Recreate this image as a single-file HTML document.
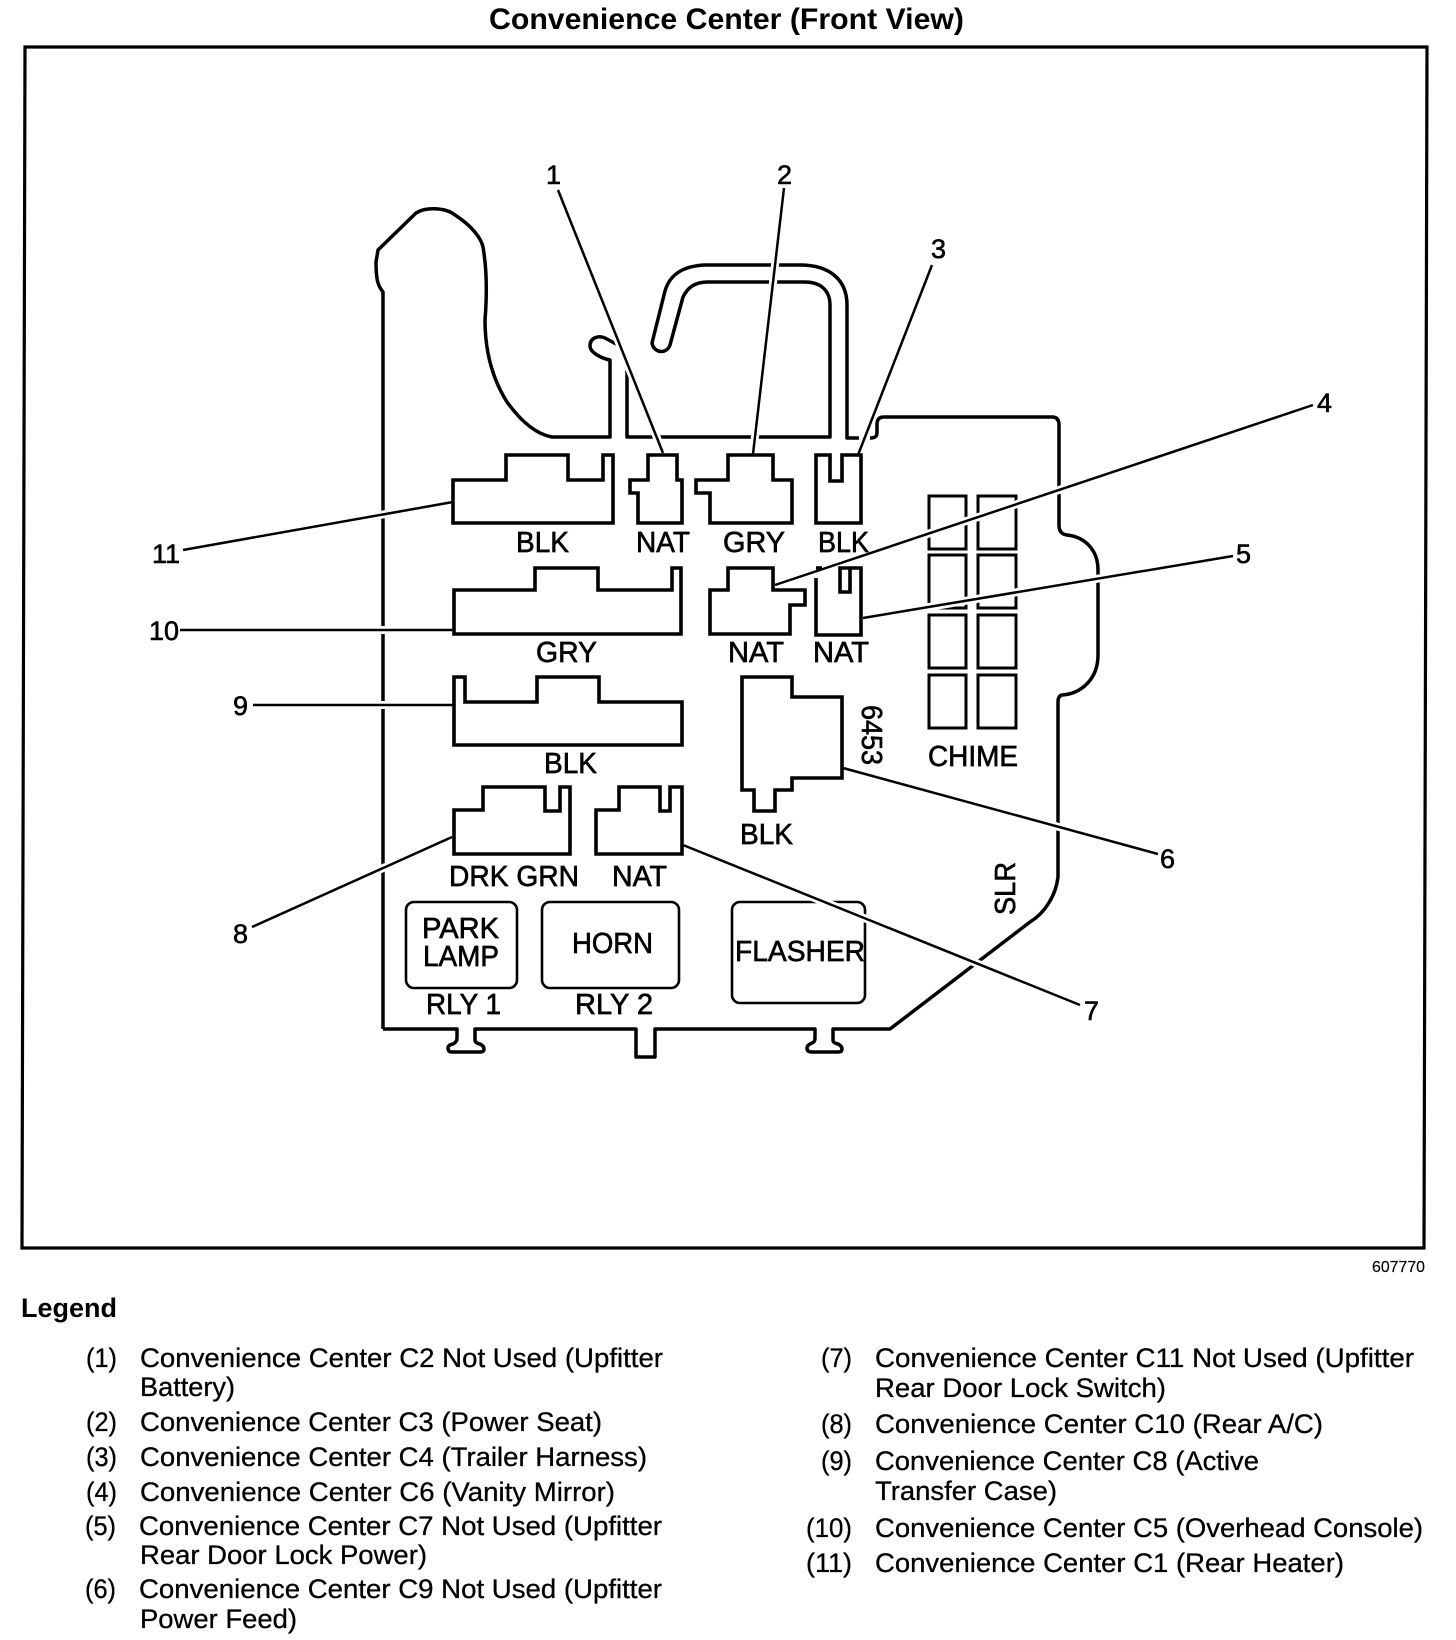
<!DOCTYPE html>
<html>
<head>
<meta charset="utf-8">
<style>
html,body{margin:0;padding:0;background:#fff;}
svg{display:block;}
text{font-family:"Liberation Sans",Arial,sans-serif;fill:#000;}
.d{font-size:29px;stroke:#000;stroke-width:.65px;}
.n{font-size:27px;stroke:#000;stroke-width:.6px;}
.l{font-size:26.5px;stroke:#000;stroke-width:.3px;}
.b{font-size:29.5px;font-weight:bold;}
.o{fill:none;stroke:#000;stroke-width:3.5;stroke-linejoin:round;}
.c{fill:none;stroke:#000;stroke-width:3.6;stroke-linejoin:miter;}
.r{fill:none;stroke:#000;stroke-width:2.6;}
.h{stroke:#fff;stroke-width:8;fill:none;}
.k{stroke:#000;stroke-width:2.5;fill:none;}
</style>
</head>
<body>
<svg xmlns="http://www.w3.org/2000/svg" width="1456" height="1640" viewBox="0 0 1456 1640">
<rect width="1456" height="1640" fill="#fff"/>

<text class="b" x="489" y="29" textLength="475" lengthAdjust="spacingAndGlyphs">Convenience Center (Front View)</text>
<polygon points="25,47 1427,47 1424,1248 22,1248" fill="none" stroke="#000" stroke-width="3.2"/>

<!-- body -->
<path class="o" d="M383 1029 L383 292 C378 286 376 280 376 262 L378 250 L416 213 C425 207 445 207 455 215 C472 226 481 238 483 247 C487 270 487 295 485 320 C485 345 490 375 507 402 C520 420 535 434 552 437 L610 437 L610 360 C600 358 590 352 590 346 C590 338 598 335 605 338 L618 345"/>
<path class="o" d="M627 370 V437 H830 V305 C830 290 820 282 805 282 H708 C695 282 688 287 683 297 L670 345 C667 354 654 354 652 343 L664 295 C668 275 682 266 705 265 H800 C830 265 847 280 847 305 V438 H859"/>
<path class="o" d="M870 438 C876 438 877 436 877 432 V424 Q877 417 884 417 H1052 Q1059 417 1059 425 V525 Q1059 534 1067 535 C1085 537 1098 550 1098 570 V655 C1098 680 1080 694 1062 695 Q1058 696 1058 702 V877 C1056 895 1045 913 1030 922 L890 1029 H833 V1040 Q833 1043 838 1044 Q842 1046 842 1049 Q842 1052 838 1052 H812 Q807 1052 807 1048 Q807 1045 812 1043 Q815 1042 815 1038 V1029 H655 V1057 H636 V1029 H475 V1040 Q475 1043 480 1044 Q484 1046 484 1049 Q484 1052 480 1052 H452 Q448 1052 448 1048 Q448 1045 453 1044 Q457 1042 457 1038 V1029 H383"/>

<!-- chime -->
<g class="c" style="stroke-width:3">
<rect x="929" y="496" width="37" height="53"/><rect x="978" y="496" width="38" height="53"/>
<rect x="929" y="555" width="37" height="53"/><rect x="978" y="555" width="38" height="53"/>
<rect x="929" y="615" width="37" height="53"/><rect x="978" y="615" width="38" height="53"/>
<rect x="929" y="675" width="37" height="53"/><rect x="978" y="675" width="38" height="53"/>
</g>

<!-- relays -->
<rect class="r" x="406" y="902" width="111" height="86" rx="8"/>
<rect class="r" x="542" y="902" width="137" height="86" rx="8"/>
<rect class="r" x="732" y="902" width="133" height="101" rx="8"/>

<!-- leader halos -->
<g class="h">
<line x1="558" y1="190" x2="663" y2="453"/>
<line x1="784" y1="188" x2="753" y2="454"/>
<line x1="932" y1="265" x2="858" y2="455"/>
<line x1="1313" y1="405" x2="775" y2="585"/>
<line x1="1233" y1="556" x2="863" y2="618"/>
<line x1="843" y1="768" x2="1158" y2="854"/>
<line x1="683" y1="845" x2="1080" y2="1005"/>
<line x1="252" y1="927" x2="452" y2="837"/>
<line x1="253" y1="705" x2="453" y2="705"/>
<line x1="180" y1="630" x2="453" y2="630"/>
<line x1="183" y1="550" x2="453" y2="502"/>
</g>
<!-- leaders -->
<g class="k">
<line x1="558" y1="190" x2="663" y2="453"/>
<line x1="784" y1="188" x2="753" y2="454"/>
<line x1="932" y1="265" x2="858" y2="455"/>
<line x1="1313" y1="405" x2="775" y2="585"/>
<line x1="1233" y1="556" x2="863" y2="618"/>
<line x1="843" y1="768" x2="1158" y2="854"/>
<line x1="683" y1="845" x2="1080" y2="1005"/>
<line x1="252" y1="927" x2="452" y2="837"/>
<line x1="253" y1="705" x2="453" y2="705"/>
<line x1="180" y1="630" x2="453" y2="630"/>
<line x1="183" y1="550" x2="453" y2="502"/>
</g>

<!-- connectors -->
<g class="c">
<path d="M453 480 H506 V455 H568 V480 H603 V455 H613 V523 H453 Z"/>
<path d="M648 455 H677 V480 H682 V523 H638 V493 H630 V480 H648 Z"/>
<path d="M728 455 H773 V480 H792 V523 H710 V493 H696 V480 H728 Z"/>
<path d="M816 455 H830 V481 H842 V455 H861 V523 H816 Z"/>
<path d="M454 590 H535 V568 H598 V590 H672 V568 H681 V634 H454 Z"/>
<path d="M710 590 H728 V568 H773 V590 H805 V605 H790 V634 H710 Z"/>
<path d="M816 578 V635 H861 V568 H840 V592 H850 V568"/>
<path d="M816 568 H822"/>
<path d="M454 677 H465 V702 H537 V677 H599 V702 H682 V745 H454 Z"/>
<path d="M454 810 H483 V787 H545 V811 H560 V787 H570 V854 H454 Z"/>
<path d="M596 810 H619 V787 H660 V811 H670 V787 H682 V854 H596 Z"/>
<path d="M742 677 H792 V697 H842 V778 H792 V790 H775 V811 H754 V790 H742 Z"/>
</g>

<!-- labels -->
<text class="d" x="516" y="552" textLength="53" lengthAdjust="spacingAndGlyphs">BLK</text>
<text class="d" x="636" y="552" textLength="54" lengthAdjust="spacingAndGlyphs">NAT</text>
<text class="d" x="723" y="552" textLength="62" lengthAdjust="spacingAndGlyphs">GRY</text>
<text class="d" x="818" y="552" textLength="51" lengthAdjust="spacingAndGlyphs">BLK</text>
<text class="d" x="536" y="662" textLength="61" lengthAdjust="spacingAndGlyphs">GRY</text>
<text class="d" x="728" y="662" textLength="56" lengthAdjust="spacingAndGlyphs">NAT</text>
<text class="d" x="813" y="662" textLength="56" lengthAdjust="spacingAndGlyphs">NAT</text>
<text class="d" x="544" y="773" textLength="53" lengthAdjust="spacingAndGlyphs">BLK</text>
<text class="d" x="740" y="844" textLength="53" lengthAdjust="spacingAndGlyphs">BLK</text>
<text class="d" x="449" y="886" textLength="130" lengthAdjust="spacingAndGlyphs">DRK GRN</text>
<text class="d" x="612" y="886" textLength="55" lengthAdjust="spacingAndGlyphs">NAT</text>
<text class="d" x="422" y="938" textLength="77" lengthAdjust="spacingAndGlyphs">PARK</text>
<text class="d" x="423" y="966" textLength="76" lengthAdjust="spacingAndGlyphs">LAMP</text>
<text class="d" x="572" y="953" textLength="81" lengthAdjust="spacingAndGlyphs">HORN</text>
<text class="d" x="735" y="961" textLength="130" lengthAdjust="spacingAndGlyphs">FLASHER</text>
<text class="d" x="426" y="1014" textLength="75" lengthAdjust="spacingAndGlyphs">RLY 1</text>
<text class="d" x="575" y="1014" textLength="78" lengthAdjust="spacingAndGlyphs">RLY 2</text>
<text class="d" x="928" y="766" textLength="90" lengthAdjust="spacingAndGlyphs">CHIME</text>
<text class="d" transform="translate(862,705) rotate(90)" textLength="60" lengthAdjust="spacingAndGlyphs">6453</text>
<text class="d" transform="translate(1015,915) rotate(-90)" textLength="53" lengthAdjust="spacingAndGlyphs">SLR</text>

<!-- callout numbers -->
<text class="n" x="546" y="184">1</text>
<text class="n" x="777" y="184">2</text>
<text class="n" x="931" y="258">3</text>
<text class="n" x="1317" y="412">4</text>
<text class="n" x="1236" y="563">5</text>
<text class="n" x="1160" y="868">6</text>
<text class="n" x="1084" y="1020">7</text>
<text class="n" x="233" y="943">8</text>
<text class="n" x="233" y="715">9</text>
<text class="n" x="149" y="640" textLength="30">10</text>
<text class="n" x="152" y="563" textLength="28">11</text>

<text x="1372" y="1272" font-size="16" stroke="#000" stroke-width=".15" textLength="53" lengthAdjust="spacingAndGlyphs">607770</text>

<!-- legend -->
<text class="b" x="21" y="1317" textLength="96" lengthAdjust="spacingAndGlyphs" style="font-size:27px">Legend</text>

<text class="l" x="86" y="1367" textLength="31" lengthAdjust="spacingAndGlyphs">(1)</text>
<text class="l" x="140" y="1367" textLength="523" lengthAdjust="spacingAndGlyphs">Convenience Center C2 Not Used (Upfitter</text>
<text class="l" x="140" y="1396" textLength="95" lengthAdjust="spacingAndGlyphs">Battery)</text>
<text class="l" x="86" y="1431" textLength="31" lengthAdjust="spacingAndGlyphs">(2)</text>
<text class="l" x="140" y="1431" textLength="462" lengthAdjust="spacingAndGlyphs">Convenience Center C3 (Power Seat)</text>
<text class="l" x="86" y="1466" textLength="31" lengthAdjust="spacingAndGlyphs">(3)</text>
<text class="l" x="140" y="1466" textLength="507" lengthAdjust="spacingAndGlyphs">Convenience Center C4 (Trailer Harness)</text>
<text class="l" x="86" y="1501" textLength="31" lengthAdjust="spacingAndGlyphs">(4)</text>
<text class="l" x="140" y="1501" textLength="475" lengthAdjust="spacingAndGlyphs">Convenience Center C6 (Vanity Mirror)</text>
<text class="l" x="85" y="1535" textLength="31" lengthAdjust="spacingAndGlyphs">(5)</text>
<text class="l" x="139" y="1535" textLength="523" lengthAdjust="spacingAndGlyphs">Convenience Center C7 Not Used (Upfitter</text>
<text class="l" x="140" y="1564" textLength="287" lengthAdjust="spacingAndGlyphs">Rear Door Lock Power)</text>
<text class="l" x="85" y="1598" textLength="31" lengthAdjust="spacingAndGlyphs">(6)</text>
<text class="l" x="139" y="1598" textLength="523" lengthAdjust="spacingAndGlyphs">Convenience Center C9 Not Used (Upfitter</text>
<text class="l" x="140" y="1628" textLength="157" lengthAdjust="spacingAndGlyphs">Power Feed)</text>

<text class="l" x="821" y="1367" textLength="31" lengthAdjust="spacingAndGlyphs">(7)</text>
<text class="l" x="875" y="1367" textLength="539" lengthAdjust="spacingAndGlyphs">Convenience Center C11 Not Used (Upfitter</text>
<text class="l" x="875" y="1397" textLength="291" lengthAdjust="spacingAndGlyphs">Rear Door Lock Switch)</text>
<text class="l" x="821" y="1433" textLength="31" lengthAdjust="spacingAndGlyphs">(8)</text>
<text class="l" x="875" y="1433" textLength="448" lengthAdjust="spacingAndGlyphs">Convenience Center C10 (Rear A/C)</text>
<text class="l" x="821" y="1470" textLength="31" lengthAdjust="spacingAndGlyphs">(9)</text>
<text class="l" x="875" y="1470" textLength="384" lengthAdjust="spacingAndGlyphs">Convenience Center C8 (Active</text>
<text class="l" x="875" y="1500" textLength="182" lengthAdjust="spacingAndGlyphs">Transfer Case)</text>
<text class="l" x="806" y="1537" textLength="46" lengthAdjust="spacingAndGlyphs">(10)</text>
<text class="l" x="875" y="1537" textLength="548" lengthAdjust="spacingAndGlyphs">Convenience Center C5 (Overhead Console)</text>
<text class="l" x="806" y="1572" textLength="46" lengthAdjust="spacingAndGlyphs">(11)</text>
<text class="l" x="875" y="1572" textLength="469" lengthAdjust="spacingAndGlyphs">Convenience Center C1 (Rear Heater)</text>
</svg>
</body>
</html>
